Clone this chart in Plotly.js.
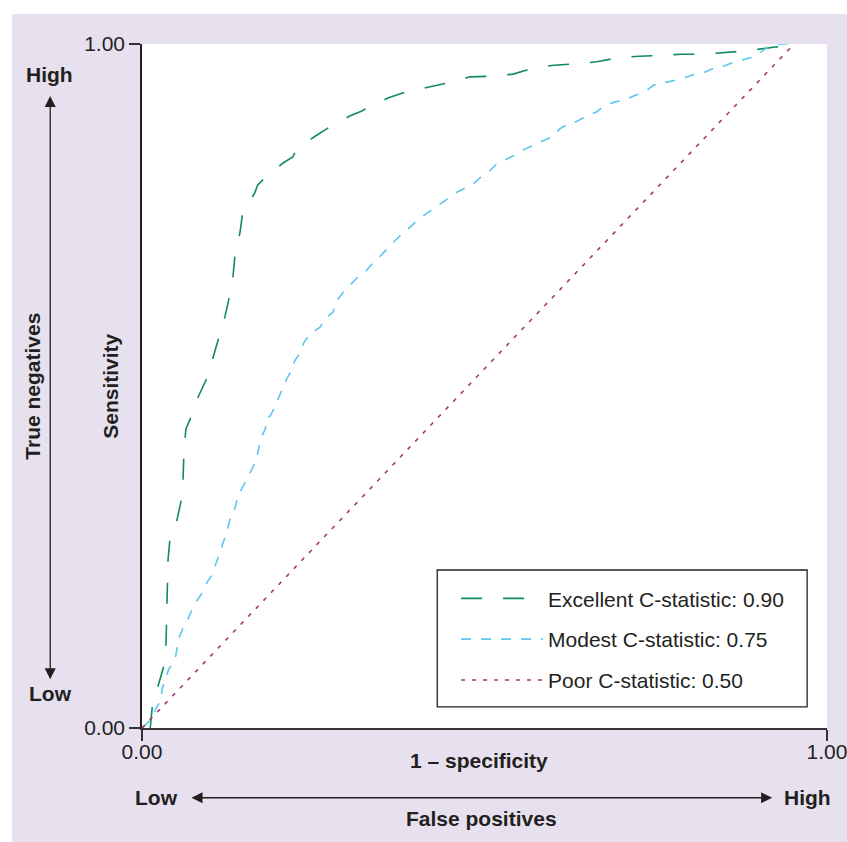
<!DOCTYPE html>
<html>
<head>
<meta charset="utf-8">
<script src="https://cdn.plot.ly/plotly-3.0.1.min.js"></script>
<style>
  html, body { margin: 0; padding: 0; background: #ffffff; width: 847px; height: 842px; overflow: hidden; }
  #chart { position: absolute; left: 12px; top: 14px; width: 870px; height: 828px; }
</style>
</head>
<body>
<div id="chart"></div>
<script>
// ---- data ----
const seriesNames = ['Excellent C-statistic: 0.90', 'Modest C-statistic: 0.75', 'Poor C-statistic: 0.50'];

const excellentX = [0.012,0.015,0.023,0.032,0.035,0.036,0.038,0.041,0.051,0.058,0.060,0.061,0.064,0.073,0.082,0.095,0.104,0.112,0.121,0.128,0.133,0.136,0.143,0.147,0.164,0.169,0.181,0.206,0.220,0.226,0.251,0.276,0.304,0.321,0.331,0.359,0.388,0.419,0.450,0.479,0.511,0.542,0.572,0.601,0.634,0.664,0.695,0.726,0.758,0.788,0.819,0.850,0.882,0.912,0.927,0.946];
const excellentY = [0,0.031,0.060,0.091,0.121,0.184,0.246,0.278,0.304,0.336,0.365,0.398,0.437,0.458,0.484,0.512,0.542,0.572,0.601,0.632,0.662,0.694,0.724,0.754,0.781,0.794,0.806,0.826,0.835,0.846,0.864,0.880,0.895,0.902,0.908,0.921,0.931,0.937,0.944,0.952,0.953,0.956,0.965,0.969,0.971,0.974,0.980,0.982,0.984,0.985,0.985,0.987,0.990,0.994,0.996,0.994];

const modestX = [0.001,0.015,0.020,0.028,0.029,0.034,0.039,0.048,0.051,0.054,0.060,0.067,0.073,0.080,0.089,0.095,0.104,0.108,0.114,0.118,0.124,0.127,0.131,0.136,0.139,0.146,0.153,0.161,0.166,0.171,0.174,0.180,0.182,0.187,0.194,0.199,0.206,0.212,0.218,0.223,0.232,0.236,0.245,0.260,0.267,0.279,0.283,0.293,0.304,0.315,0.326,0.337,0.347,0.359,0.369,0.381,0.391,0.404,0.416,0.429,0.441,0.455,0.469,0.483,0.493,0.507,0.518,0.533,0.545,0.558,0.571,0.587,0.600,0.610,0.620,0.635,0.650,0.664,0.674,0.689,0.704,0.720,0.734,0.747,0.761,0.777,0.791,0.807,0.820,0.836,0.850,0.866,0.880,0.896,0.907,0.921,0.928,0.950];
const modestY = [0,0.015,0.028,0.041,0.056,0.072,0.086,0.099,0.114,0.132,0.146,0.159,0.173,0.186,0.199,0.213,0.227,0.241,0.256,0.270,0.285,0.300,0.314,0.322,0.335,0.351,0.363,0.379,0.390,0.411,0.425,0.437,0.453,0.456,0.469,0.482,0.497,0.512,0.522,0.537,0.550,0.563,0.576,0.586,0.598,0.608,0.623,0.636,0.648,0.659,0.667,0.680,0.689,0.702,0.712,0.724,0.732,0.744,0.753,0.762,0.770,0.781,0.788,0.795,0.804,0.814,0.825,0.832,0.838,0.846,0.852,0.860,0.865,0.876,0.882,0.887,0.895,0.901,0.909,0.915,0.918,0.925,0.930,0.940,0.943,0.946,0.950,0.956,0.958,0.965,0.968,0.974,0.978,0.982,0.991,1.000,1.000,1.000];

const poorX = [0, 0.952];
const poorY = [0, 1.0];

const tickVals = [0, 1];
const tickLabels = ['0.00', '1.00'];

// ---- style ----
const FONT = '"Liberation Sans", Arial, Helvetica, sans-serif';
const TXT = '#231f20';
const BG = '#e7e1ef';
const FS = 21;

const traces = [
  { x: excellentX, y: excellentY, name: seriesNames[0], legendgroup: 'a', type: 'scatter', mode: 'lines',
    line: { color: '#128a5e', width: 1.6, dash: '21px,21px' } },
  { x: modestX, y: modestY, name: seriesNames[1], legendgroup: 'b', type: 'scatter', mode: 'lines',
    line: { color: '#5cc6ef', width: 1.6, dash: '10px,10px' } },
  { x: poorX, y: poorY, name: seriesNames[2], legendgroup: 'c', type: 'scatter', mode: 'lines',
    line: { color: '#a33d5e', width: 1.6, dash: '4px,7px' } }
];

const boldFont = { family: FONT, size: FS, color: TXT, weight: 'bold' };

const layout = {
  width: 870, height: 828,
  margin: { l: 130, r: 55, t: 30, b: 114, pad: 0 },
  paper_bgcolor: BG,
  plot_bgcolor: '#ffffff',
  font: { family: FONT, size: FS, color: TXT },
  showlegend: true,
  legend: {
    x: 0.4585, y: 0.219, xanchor: 'left', yanchor: 'top',
    bgcolor: 'rgba(0,0,0,0)', borderwidth: 0,
    font: { family: FONT, size: FS, color: TXT },
    tracegroupgap: 10.5, itemwidth: 82
  },
  xaxis: {
    range: [0, 1], tickvals: tickVals, ticktext: tickLabels,
    ticks: 'outside', ticklen: 11, tickwidth: 1.5, tickcolor: '#333333',
    showline: true, linecolor: '#333333', linewidth: 1.5,
    showgrid: false, zeroline: false, fixedrange: true, ticklabeloverflow: 'allow',
    ticklabelstandoff: -7,
    tickfont: { family: FONT, size: FS, color: TXT }
  },
  yaxis: {
    range: [0, 1], tickvals: tickVals, ticktext: tickLabels,
    ticks: 'outside', ticklen: 11, tickwidth: 1.5, tickcolor: '#333333',
    showline: true, linecolor: '#231f20', linewidth: 1.8,
    showgrid: false, zeroline: false, fixedrange: true,
    tickfont: { family: FONT, size: FS, color: TXT }
  },
  shapes: [
    { type: 'rect', xref: 'paper', yref: 'paper', x0: 0.431, x1: 0.971, y0: 0.031, y1: 0.231,
      line: { color: '#231f20', width: 1.3 }, fillcolor: '#ffffff', layer: 'below' }
  ],
  annotations: [
    { text: 'Sensitivity', xref: 'paper', yref: 'paper', x: -0.047, y: 0.5, textangle: -90,
      showarrow: false, font: boldFont, xanchor: 'center', yanchor: 'middle' },
    { text: 'True negatives', xref: 'paper', yref: 'paper', x: -0.161, y: 0.5, textangle: -90,
      showarrow: false, font: boldFont, xanchor: 'center', yanchor: 'middle' },
    { text: 'High', xref: 'paper', yref: 'paper', x: -0.135, y: 0.955,
      showarrow: false, font: boldFont, xanchor: 'center', yanchor: 'middle' },
    { text: 'Low', xref: 'paper', yref: 'paper', x: -0.134, y: 0.051,
      showarrow: false, font: boldFont, xanchor: 'center', yanchor: 'middle' },
    { text: '1 \u2013 specificity', xref: 'paper', yref: 'paper', x: 0.492, y: -0.048,
      showarrow: false, font: boldFont, xanchor: 'center', yanchor: 'middle' },
    { text: 'Low', xref: 'paper', yref: 'paper', x: 0.021, y: -0.101,
      showarrow: false, font: boldFont, xanchor: 'center', yanchor: 'middle' },
    { text: 'High', xref: 'paper', yref: 'paper', x: 0.972, y: -0.101,
      showarrow: false, font: boldFont, xanchor: 'center', yanchor: 'middle' },
    { text: 'False positives', xref: 'paper', yref: 'paper', x: 0.496, y: -0.133,
      showarrow: false, font: boldFont, xanchor: 'center', yanchor: 'middle' },
    // vertical double arrow
    { text: '', xref: 'paper', yref: 'y', x: -0.134, y: 0.924,
      axref: 'pixel', ayref: 'y', ax: 0, ay: 0.069,
      showarrow: true, arrowhead: 2, arrowside: 'end+start', arrowsize: 1.7, arrowwidth: 1.3,
      arrowcolor: '#231f20', standoff: 0, startstandoff: 0 },
    // horizontal double arrow
    { text: '', xref: 'x', yref: 'paper', x: 0.920, y: -0.102,
      axref: 'x', ayref: 'pixel', ax: 0.070, ay: 0,
      showarrow: true, arrowhead: 2, arrowside: 'end+start', arrowsize: 1.7, arrowwidth: 1.3,
      arrowcolor: '#231f20', standoff: 0, startstandoff: 0 }
  ]
};

Plotly.newPlot('chart', traces, layout, { staticPlot: true, displayModeBar: false });
</script>
</body>
</html>
